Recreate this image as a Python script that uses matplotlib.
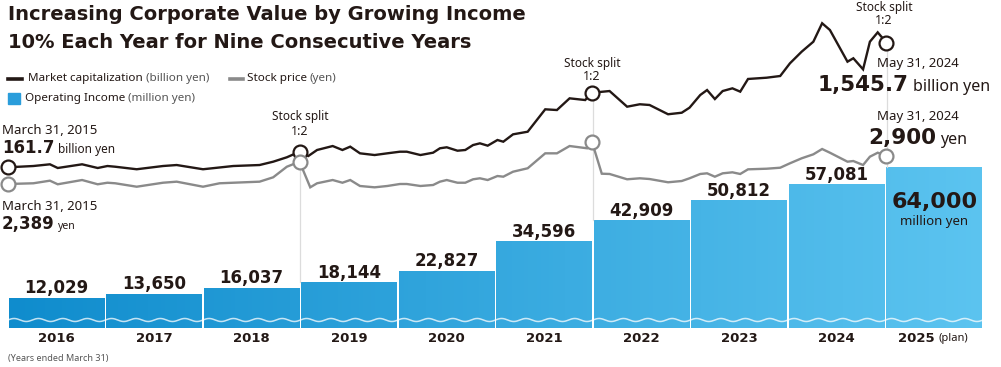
import numpy as np
import matplotlib
matplotlib.use('Agg')
import matplotlib.pyplot as plt
from matplotlib.lines import Line2D
from matplotlib.patches import Rectangle
from matplotlib.colors import LinearSegmentedColormap

# operating income by fiscal year (years ended March 31), million yen
years = [2016, 2017, 2018, 2019, 2020, 2021, 2022, 2023, 2024, 2025]
year_labels = ['2016', '2017', '2018', '2019', '2020', '2021', '2022', '2023', '2024', '2025']
op_income = [12029, 13650, 16037, 18144, 22827, 34596, 42909, 50812, 57081, 64000]
op_labels = ['12,029', '13,650', '16,037', '18,144', '22,827', '34,596', '42,909', '50,812', '57,081', '64,000']

# market capitalization, billion yen (time in decimal years)
mc_t = [2015.25, 2015.51, 2015.68, 2015.76, 2016.01, 2016.17, 2016.27, 2016.35, 2016.57, 2016.84,
        2016.98, 2017.25, 2017.56, 2017.83, 2017.97, 2018.11, 2018.24, 2018.33, 2018.42, 2018.58,
        2018.68, 2018.76, 2018.86, 2019.01, 2019.14, 2019.27, 2019.34, 2019.48, 2019.61, 2019.68,
        2019.75, 2019.86, 2019.94, 2020.02, 2020.09, 2020.17, 2020.27, 2020.33, 2020.43, 2020.58,
        2020.76, 2020.88, 2021.01, 2021.17, 2021.24, 2021.42, 2021.60, 2021.73, 2021.83, 2022.02,
        2022.16, 2022.24, 2022.35, 2022.42, 2022.50, 2022.58, 2022.68, 2022.76, 2022.84, 2023.03,
        2023.17, 2023.27, 2023.39, 2023.51, 2023.60, 2023.68, 2023.86, 2023.92, 2024.02, 2024.09,
        2024.17, 2024.26]
mc_v = [161.7, 176, 195, 154, 195, 154, 176, 168, 140, 176,
        187, 140, 176, 187, 224, 273, 335, 287, 354, 398,
        354, 391, 317, 298, 317, 335, 335, 298, 324, 373,
        384, 346, 354, 409, 428, 402, 465, 446, 528, 557,
        806, 798, 928, 909, 990, 1009, 835, 862, 854, 751,
        768, 824, 965, 1020, 920, 1009, 1039, 1002, 1143, 1157,
        1176, 1317, 1446, 1557, 1762, 1687, 1335, 1373, 1250, 1557,
        1661, 1545.7]

# stock price, yen
sp_t = [2015.25, 2015.51, 2015.68, 2015.76, 2016.01, 2016.17, 2016.27, 2016.35, 2016.57, 2016.84,
        2016.98, 2017.25, 2017.42, 2017.83, 2017.97, 2018.11, 2018.24, 2018.35, 2018.42, 2018.58,
        2018.68, 2018.76, 2018.86, 2019.01, 2019.14, 2019.27, 2019.34, 2019.48, 2019.61, 2019.68,
        2019.75, 2019.86, 2019.94, 2020.02, 2020.09, 2020.17, 2020.27, 2020.33, 2020.43, 2020.58,
        2020.76, 2020.88, 2021.01, 2021.19, 2021.24, 2021.34, 2021.42, 2021.60, 2021.73, 2021.83,
        2022.02, 2022.16, 2022.24, 2022.35, 2022.42, 2022.50, 2022.58, 2022.68, 2022.76, 2022.84,
        2023.03, 2023.17, 2023.27, 2023.39, 2023.51, 2023.60, 2023.68, 2023.86, 2023.92, 2024.02,
        2024.09, 2024.17, 2024.26]
sp_v = [2389, 2402, 2449, 2384, 2461, 2384, 2412, 2402, 2340, 2412,
        2431, 2340, 2402, 2431, 2510, 2701, 2792, 2329, 2402, 2461,
        2412, 2461, 2353, 2329, 2353, 2389, 2389, 2353, 2371, 2431,
        2461, 2412, 2412, 2474, 2492, 2461, 2533, 2521, 2611, 2673,
        2943, 2943, 3075, 3034, 3148, 2575, 2570, 2474, 2492, 2479,
        2420, 2443, 2492, 2570, 2582, 2521, 2582, 2600, 2570, 2654,
        2665, 2683, 2763, 2853, 2925, 3021, 2954, 2792, 2804, 2732,
        2882, 2954, 2900]

split_t = [2018.24, 2021.24, 2024.26]

W, H = 1001, 367
DARK = '#231815'
GREY = '#8a8a8a'

fig = plt.figure(figsize=(W / 100, H / 100), dpi=100)
fig.patch.set_facecolor('white')

# x in years: px 8 -> 2015.25, 97.5 px per year
px_per_year = 97.5
x_left = 2015.25 - 8 / px_per_year
x_right = 2015.25 + (W - 8) / px_per_year

ax = fig.add_axes([0, 0, 1, 1])
ax_mc = ax.twinx()
ax_sp = ax.twinx()
for a in (ax, ax_mc, ax_sp):
    a.set_axis_off()

# bar scale: 0 at px 328, 64000 at px 167
v_per_px = 64000 / 161
ax.set_xlim(x_left, x_right)
ax.set_ylim(-(H - 328) * v_per_px, 328 * v_per_px)

# bars with a left-to-right blue gradient (image clipped to each bar)
cmap = LinearSegmentedColormap.from_list('blue', ['#0f8ccd', '#5cc4f0'])
gx0 = years[0] - 0.75
gx1 = years[-1] + 0.25
centers = [yr - 0.25 for yr in years]
bars = ax.bar(centers, op_income, width=0.98, color='#3aa9e0', linewidth=0, zorder=1)
for b in bars:
    x0 = b.get_x()
    x1 = x0 + b.get_width()
    val = b.get_height()
    c0 = (x0 - gx0) / (gx1 - gx0)
    c1 = (x1 - gx0) / (gx1 - gx0)
    im = ax.imshow(np.linspace(c0, c1, 128)[None, :], extent=[x0 - 0.05, x1 + 0.05, -2000, val + 2000],
                   aspect='auto', cmap=cmap, vmin=0, vmax=1, interpolation='nearest', zorder=1.1)
    im.set_clip_path(b)
    # wave (axis break)
    wx = np.linspace(x0, x1, 300)
    wy = 3180 + 600 * np.sin(2 * np.pi * (wx - gx0) / 0.25)
    ax.plot(wx, wy, color='white', lw=1.1, alpha=0.75, zorder=2)
ax.set_xlim(x_left, x_right)
ax.set_ylim(-(H - 328) * v_per_px, 328 * v_per_px)

# market cap scale: 161.7 at px 167.3, 11.11 per px
ax_mc.set_ylim(161.7 - (H - 167.3) * 11.11, 161.7 + 167.3 * 11.11)
# stock price scale: 2389 at px 184, 18.06 per px
ax_sp.set_ylim(2389 - (H - 184) * 18.06, 2389 + 184 * 18.06)
for a in (ax_mc, ax_sp):
    a.set_xlim(x_left, x_right)

# value labels
for i, (c, val, lab) in enumerate(zip(centers, op_income, op_labels)):
    if i < len(years) - 1:
        ax.annotate(lab, (c, val), xytext=(0, 3.2), textcoords='offset points',
                    ha='center', va='baseline', fontsize=12, fontweight='bold',
                    family='DejaVu Sans', color=DARK, zorder=5)
ax.annotate(op_labels[-1], (centers[-1], op_income[-1]), xytext=(0, -29.5),
            textcoords='offset points', ha='center', va='baseline', fontsize=16,
            fontweight='bold', family='DejaVu Sans', color=DARK, zorder=5)
ax.annotate('million yen', (centers[-1], op_income[-1]), xytext=(0, -41.5),
            textcoords='offset points', ha='center', va='baseline', fontsize=9.5,
            family='Noto Sans', fontweight='semibold', color=DARK, zorder=5)

# split guide lines, from the market cap circle down to the next bar
fig.canvas.draw()
for st in split_t:
    i_mc = mc_t.index(st)
    bar_i = int(round(st - 0.25)) - years[0] + 1
    ydisp = ax_mc.transData.transform((st, mc_v[i_mc]))[1]
    ytop = ax.transData.inverted().transform((0, ydisp))[1]
    ax.plot([st + 0.005, st + 0.005], [op_income[bar_i], ytop], color='#dcdcdc', lw=0.9, zorder=1.5)

# lines
ax_sp.plot(sp_t, sp_v, color=GREY, lw=1.7, solid_joinstyle='miter', zorder=3)
ax_mc.plot(mc_t, mc_v, color=DARK, lw=1.7, solid_joinstyle='miter', zorder=3)

for st in [sp_t[0]] + split_t:
    i = sp_t.index(st)
    ax_sp.plot(sp_t[i], sp_v[i], 'o', ms=10, mfc='white', mec=GREY, mew=1.6, zorder=4)
    i = mc_t.index(st)
    ax_mc.plot(mc_t[i], mc_v[i], 'o', ms=10, mfc='white', mec=DARK, mew=1.6, zorder=4)

# year labels
for c, lab in zip(centers[:-1], year_labels[:-1]):
    ax.text(c, -10 * v_per_px, lab, ha='center', va='center', fontsize=9.5,
            fontweight='bold', family='DejaVu Sans', color=DARK)
ax.text(935 / px_per_year + x_left, -10 * v_per_px, year_labels[-1], ha='right', va='center',
        fontsize=9.5, fontweight='bold', family='DejaVu Sans', color=DARK)
ax.text(939 / px_per_year + x_left, -10 * v_per_px, '(plan)', ha='left', va='center',
        fontsize=8, family='Noto Sans', color=DARK)


def ftext(x, y, s, **kw):
    return fig.text(x / W, 1 - y / H, s, **kw)


def chain(x, y, pieces, va='baseline', gap=3):
    r = fig.canvas.get_renderer()
    for s, kw in pieces:
        t = ftext(x, y, s, ha='left', va=va, **kw)
        x = x + t.get_window_extent(r).width + gap
    return x


# title
ttl = dict(fontsize=14, fontweight='bold', family='DejaVu Sans', color=DARK)
ftext(8, 15, 'Increasing Corporate Value by Growing Income', ha='left', va='center', **ttl)
ftext(8, 43, '10% Each Year for Nine Consecutive Years', ha='left', va='center', **ttl)

# legend
leg = dict(fontsize=8.4, family='Noto Sans', color=DARK)
leg2 = dict(fontsize=8.4, family='Noto Sans', color='#555555')
fig.add_artist(Line2D([8 / W, 22 / W], [1 - 79 / H] * 2, color=DARK, lw=2.6))
chain(28, 79, [('Market capitalization', leg), ('(billion yen)', leg2)], va='center')
fig.add_artist(Line2D([230 / W, 243 / W], [1 - 79 / H] * 2, color=GREY, lw=2.6))
chain(247, 79, [('Stock price', leg), ('(yen)', leg2)], va='center')
fig.add_artist(Rectangle((8 / W, 1 - 104 / H), 12 / W, 11 / H, color='#2a9ddb',
                         transform=fig.transFigure))
chain(25, 98, [('Operating Income', leg), ('(million yen)', leg2)], va='center')

# start annotations
small = dict(fontsize=9.5, family='Noto Sans', color=DARK)
ftext(2, 130, 'March 31, 2015', ha='left', va='center', **small)
chain(2, 153, [('161.7', dict(fontsize=12, fontweight='bold', family='DejaVu Sans', color=DARK)),
               ('billion yen', dict(fontsize=8.5, family='Noto Sans', color=DARK))])
ftext(2, 207, 'March 31, 2015', ha='left', va='center', **small)
chain(2, 229, [('2,389', dict(fontsize=12, fontweight='bold', family='DejaVu Sans', color=DARK)),
               ('yen', dict(fontsize=7.5, family='Noto Sans', color=DARK))])

# stock split labels
for cx, cy in [(300, 117), (592, 63), (884, 7)]:
    ftext(cx, cy, 'Stock split', ha='center', va='center', fontsize=8.5, family='Noto Sans', color=DARK)
    ftext(cx, cy + 14, '1:2', ha='center', va='center', fontsize=9, family='Noto Sans', color=DARK)

# end annotations
ftext(877, 63, 'May 31, 2024', ha='left', va='center', **small)
chain(818, 91, [('1,545.7', dict(fontsize=15.5, fontweight='bold', family='DejaVu Sans', color=DARK)),
                ('billion yen', dict(fontsize=11.5, family='Noto Sans', color=DARK))], gap=4)
ftext(877, 117, 'May 31, 2024', ha='left', va='center', **small)
chain(868, 144, [('2,900', dict(fontsize=15.5, fontweight='bold', family='DejaVu Sans', color=DARK)),
                 ('yen', dict(fontsize=11.5, family='Noto Sans', color=DARK))], gap=4)

ftext(8, 358, '(Years ended March 31)', ha='left', va='center', fontsize=6.5,
      family='Noto Sans', color='#555555')

fig.savefig('out.png', dpi=100, facecolor='white')
